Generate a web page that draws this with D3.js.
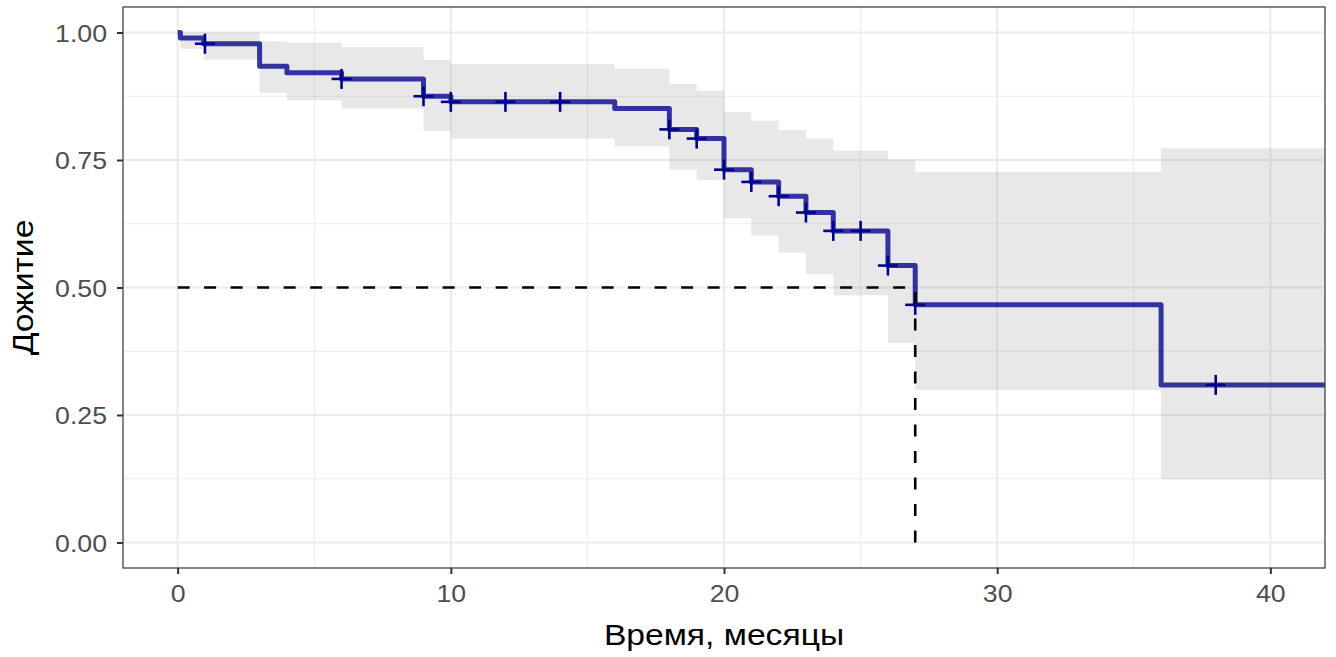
<!DOCTYPE html>
<html>
<head>
<meta charset="utf-8">
<script src="https://cdn.jsdelivr.net/npm/d3@7"></script>
<style>
  body { margin: 0; background: #fff; }
  text { font-family: "Liberation Sans", Arial, sans-serif; }
</style>
</head>
<body>
<svg id="chart" width="1336" height="657"></svg>
<script>
// Kaplan-Meier step data (time in months -> survival)
const stepTimes = [0, 0.1, 0.95, 3, 4, 6, 9, 10, 16, 18, 19, 20, 21, 22, 23, 24, 26, 27, 36];
const survival  = [1.0, 0.989, 0.978, 0.934, 0.921, 0.909, 0.875, 0.864, 0.851, 0.810, 0.792, 0.731, 0.707, 0.679, 0.647, 0.611, 0.543, 0.466, 0.309];
const upperCI   = [1.0, 1.0, 1.0, 0.983, 0.980, 0.971, 0.946, 0.938, 0.929, 0.899, 0.886, 0.844, 0.827, 0.809, 0.792, 0.768, 0.751, 0.727, 0.773];
const lowerCI   = [1.0, 0.968, 0.947, 0.882, 0.867, 0.851, 0.807, 0.792, 0.777, 0.731, 0.711, 0.636, 0.602, 0.568, 0.526, 0.485, 0.391, 0.299, 0.124];
const censorTimes = [1, 6, 9, 10, 12, 14, 18, 19, 20, 21, 22, 23, 24, 25, 26, 27, 38];
const medianTime = 27;
const endTime = 42;

const xTicks = [0, 10, 20, 30, 40];
const xMinor = [5, 15, 25, 35];
const yTicks = [0, 0.25, 0.5, 0.75, 1.0];
const yMinor = [0.125, 0.375, 0.625, 0.875];

const margin = { top: 7, right: 11, bottom: 89, left: 123 };
const W = 1336, H = 657;
const textStretch = 1.16; // the source font runs wider than Liberation Sans

const svg = d3.select("#chart");

const x = d3.scaleLinear()
    .domain([-2, 42])
    .range([margin.left, W - margin.right]);

const y = d3.scaleLinear()
    .domain([-0.05, 1.05])
    .range([H - margin.bottom, margin.top]);

svg.append("defs").append("clipPath")
    .attr("id", "panel-clip")
    .append("rect")
    .attr("x", margin.left)
    .attr("y", margin.top)
    .attr("width", W - margin.left - margin.right)
    .attr("height", H - margin.top - margin.bottom);

// grid lines (theme_bw)
const grid = svg.append("g");
grid.selectAll(".xminor").data(xMinor).enter().append("line")
    .attr("x1", d => x(d)).attr("x2", d => x(d))
    .attr("y1", margin.top).attr("y2", H - margin.bottom)
    .attr("stroke", "#ebebeb").attr("stroke-width", 1);
grid.selectAll(".yminor").data(yMinor).enter().append("line")
    .attr("y1", d => y(d)).attr("y2", d => y(d))
    .attr("x1", margin.left).attr("x2", W - margin.right)
    .attr("stroke", "#ebebeb").attr("stroke-width", 1);
grid.selectAll(".xmajor").data(xTicks).enter().append("line")
    .attr("x1", d => x(d)).attr("x2", d => x(d))
    .attr("y1", margin.top).attr("y2", H - margin.bottom)
    .attr("stroke", "#ebebeb").attr("stroke-width", 2);
grid.selectAll(".ymajor").data(yTicks).enter().append("line")
    .attr("y1", d => y(d)).attr("y2", d => y(d))
    .attr("x1", margin.left).attr("x2", W - margin.right)
    .attr("stroke", "#ebebeb").attr("stroke-width", 2);

const plot = svg.append("g").attr("clip-path", "url(#panel-clip)");

// build step series
const steps = stepTimes.map((t, i) => ({
    t0: t,
    t1: i < stepTimes.length - 1 ? stepTimes[i + 1] : endTime,
    s: survival[i], lo: lowerCI[i], hi: upperCI[i]
}));

// confidence band
const bandPts = [];
steps.forEach(d => { bandPts.push({ t: d.t0, lo: d.lo, hi: d.hi }); bandPts.push({ t: d.t1, lo: d.lo, hi: d.hi }); });
plot.append("path")
    .datum(bandPts)
    .attr("d", d3.area().x(d => x(d.t)).y0(d => y(d.lo)).y1(d => y(d.hi)))
    .attr("fill", "#7f7f7f")
    .attr("fill-opacity", 0.18);

// survival curve
const linePts = [];
steps.forEach(d => { linePts.push({ t: d.t0, s: d.s }); linePts.push({ t: d.t1, s: d.s }); });
plot.append("path")
    .datum(linePts)
    .attr("d", d3.line().x(d => x(d.t)).y(d => y(d.s)))
    .attr("fill", "none")
    .attr("stroke", "#00008b")
    .attr("stroke-opacity", 0.78)
    .attr("stroke-width", 5)
    .attr("stroke-linejoin", "round");

// censor marks
function survAt(t) {
    let s = survival[0];
    stepTimes.forEach((st, i) => { if (st <= t) s = survival[i]; });
    return s;
}
const cens = plot.append("g")
    .attr("stroke", "#00008b").attr("stroke-width", 2.6);
censorTimes.forEach(t => {
    const cx = x(t), cy = y(survAt(t));
    cens.append("line").attr("x1", cx - 10).attr("x2", cx + 10).attr("y1", cy).attr("y2", cy);
    cens.append("line").attr("x1", cx).attr("x2", cx).attr("y1", cy - 10).attr("y2", cy + 10);
});

// median lines
plot.append("path")
    .attr("d", `M${x(0)},${y(0.5)}H${x(medianTime)}V${y(0)}`)
    .attr("fill", "none")
    .attr("stroke", "#000")
    .attr("stroke-width", 2.6)
    .attr("stroke-dasharray", "12,14.5");

// panel border
svg.append("rect")
    .attr("x", margin.left).attr("y", margin.top)
    .attr("width", W - margin.left - margin.right)
    .attr("height", H - margin.top - margin.bottom)
    .attr("fill", "none")
    .attr("stroke", "#444").attr("stroke-width", 1.3);

// axes
const xAxis = svg.append("g")
    .attr("transform", `translate(0,${H - margin.bottom})`)
    .call(d3.axisBottom(x).tickValues(xTicks).tickSize(6).tickPadding(6).tickFormat(d3.format("d")));
const yAxis = svg.append("g")
    .attr("transform", `translate(${margin.left},0)`)
    .call(d3.axisLeft(y).tickValues(yTicks).tickSize(6).tickPadding(10).tickFormat(d3.format(".2f")));

[xAxis, yAxis].forEach(a => {
    a.select(".domain").remove();
    a.selectAll(".tick line").attr("stroke", "#333").attr("stroke-width", 2);
    a.selectAll(".tick text")
        .attr("fill", "#4d4d4d")
        .style("font-size", "23px")
        .style("font-family", "Liberation Sans, Arial, sans-serif");
});
xAxis.selectAll(".tick text").attr("dy", "0.95em");
yAxis.selectAll(".tick text").attr("dy", "0.38em");

// axis titles
svg.append("text")
    .attr("class", "title")
    .attr("x", (margin.left + W - margin.right) / 2)
    .attr("y", 645)
    .attr("text-anchor", "middle")
    .style("font-size", "29px")
    .attr("fill", "#000")
    .text("Время, месяцы");

svg.append("text")
    .attr("class", "title")
    .attr("transform", `translate(33,${(margin.top + H - margin.bottom) / 2}) rotate(-90)`)
    .attr("text-anchor", "middle")
    .style("font-size", "29px")
    .attr("fill", "#000")
    .text("Дожитие");

// widen glyphs along the text direction to match the source font
svg.selectAll("text").each(function () {
    const len = this.getComputedTextLength();
    d3.select(this)
        .attr("textLength", len * textStretch)
        .attr("lengthAdjust", "spacingAndGlyphs");
});
</script>
</body>
</html>
